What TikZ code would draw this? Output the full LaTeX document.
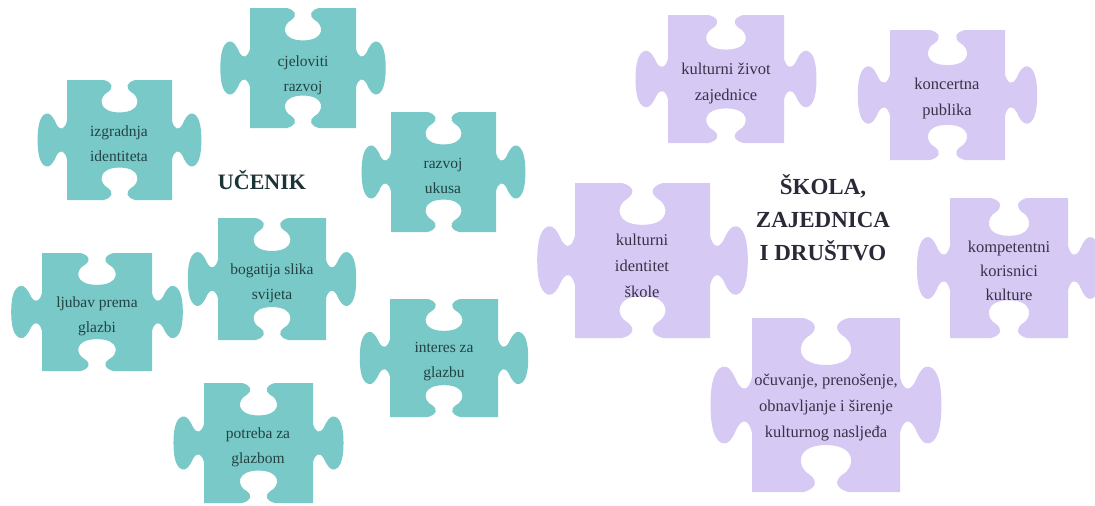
\documentclass[tikz,border=0pt]{standalone}
\usepackage{fontspec}
\setmainfont{Liberation Serif}
\definecolor{tealpiece}{HTML}{78C9C8}
\definecolor{lilacpiece}{HTML}{D6CAF4}
\definecolor{tealtext}{HTML}{234343}
\definecolor{lilactext}{HTML}{3A3148}
\definecolor{tealtitle}{HTML}{1C3436}
\definecolor{lilactitle}{HTML}{2C2838}

% outline of one jigsaw piece: body is the unit square (y downwards),
% blanks on top and bottom, tabs on left and right
\def\jigsawoutline{(0,0) -- (0.35,0)
  .. controls (0.43,0.02) and (0.45,0.06) .. (0.39,0.10)
  .. controls (0.30,0.14) and (0.29,0.27) .. (0.5,0.27)
  .. controls (0.71,0.27) and (0.70,0.14) .. (0.61,0.10)
  .. controls (0.55,0.06) and (0.57,0.02) .. (0.65,0)
  -- (1,0) -- (1,0.34)
  .. controls (1.02,0.41) and (1.06,0.43) .. (1.10,0.37)
  .. controls (1.13,0.31) and (1.16,0.27) .. (1.20,0.28)
  .. controls (1.27,0.30) and (1.28,0.42) .. (1.28,0.5)
  .. controls (1.28,0.58) and (1.27,0.70) .. (1.20,0.72)
  .. controls (1.16,0.73) and (1.13,0.69) .. (1.10,0.63)
  .. controls (1.06,0.57) and (1.02,0.59) .. (1,0.66)
  -- (1,1) -- (0.65,1)
  .. controls (0.57,0.98) and (0.55,0.94) .. (0.61,0.90)
  .. controls (0.70,0.86) and (0.71,0.73) .. (0.5,0.73)
  .. controls (0.29,0.73) and (0.30,0.86) .. (0.39,0.90)
  .. controls (0.45,0.94) and (0.43,0.98) .. (0.35,1)
  -- (0,1) -- (0,0.66)
  .. controls (-0.02,0.59) and (-0.06,0.57) .. (-0.10,0.63)
  .. controls (-0.13,0.69) and (-0.16,0.73) .. (-0.20,0.72)
  .. controls (-0.27,0.70) and (-0.28,0.58) .. (-0.28,0.5)
  .. controls (-0.28,0.42) and (-0.27,0.30) .. (-0.20,0.28)
  .. controls (-0.16,0.27) and (-0.13,0.31) .. (-0.10,0.37)
  .. controls (-0.06,0.43) and (-0.02,0.41) .. (0,0.34)
  -- cycle}

% #1,#2 top-left corner of the body, #3 width, #4 height, #5 colour
\newcommand{\jigsawpiece}[5]{%
  \fill[#5, shift={(#1,#2)}, xscale=#3, yscale=#4] \jigsawoutline;}

\tikzset{
  teallabel/.style={align=center, text=tealtext,
    font=\fontsize{15.5}{25}\selectfont},
  lilaclabel/.style={align=center, text=lilactext,
    font=\fontsize{16.5}{26}\selectfont},
}

\begin{document}
\begin{tikzpicture}[x=1pt, y=-1pt]
\fill[white] (0,0) rectangle (1095,506);
\useasboundingbox (0,0) rectangle (1095,506);

% student side
\jigsawpiece{67}{80}{105}{120}{tealpiece}
\jigsawpiece{250}{8}{106}{120}{tealpiece}
\jigsawpiece{391}{112}{105}{120}{tealpiece}
\jigsawpiece{218}{218}{108}{122}{tealpiece}
\jigsawpiece{42}{253}{110}{118}{tealpiece}
\jigsawpiece{390}{299}{108}{118}{tealpiece}
\jigsawpiece{204}{383}{109}{120}{tealpiece}

\node[teallabel] (identitet) at (119,144) {izgradnja\\identiteta};
\node[teallabel] (cjeloviti) at (303,75) {cjeloviti\\razvoj};
\node[teallabel] (ukus) at (443,176) {razvoj\\ukusa};
\node[teallabel] (slika) at (272,283) {bogatija slika\\svijeta};
\node[teallabel] (ljubav) at (97,316) {ljubav prema\\glazbi};
\node[teallabel] (interes) at (444,362) {interes za\\glazbu};
\node[teallabel] (potreba) at (258,447) {potreba za\\glazbom};
\node[text=tealtitle, font=\fontsize{22}{26}\bfseries\selectfont]
  (ucenik) at (262,180) {UČENIK};

% school and community side
\jigsawpiece{668}{15}{116}{128}{lilacpiece}
\jigsawpiece{890}{30}{115}{130}{lilacpiece}
\jigsawpiece{575}{183}{135}{155}{lilacpiece}
\jigsawpiece{950}{198}{118}{140}{lilacpiece}
\jigsawpiece{752}{318}{148}{174}{lilacpiece}

\node[lilaclabel] (zivot) at (726,84) {kulturni život\\zajednice};
\node[lilaclabel] (publika) at (947,99) {koncertna\\publika};
\node[lilaclabel] (skola) at (642,266) {kulturni\\identitet\\škole};
\node[lilaclabel, font=\fontsize{16.5}{24}\selectfont]
  (korisnici) at (1009,271) {kompetentni\\korisnici\\kulture};
\node[lilaclabel] (nasljede) at (826,408) {očuvanje, prenošenje,\\obnavljanje i širenje\\kulturnog nasljeđa};
\node[align=center, text=lilactitle, font=\fontsize{23}{33}\bfseries\selectfont]
  (drustvo) at (823,218) {ŠKOLA,\\ZAJEDNICA\\I DRUŠTVO};
\end{tikzpicture}
\end{document}
